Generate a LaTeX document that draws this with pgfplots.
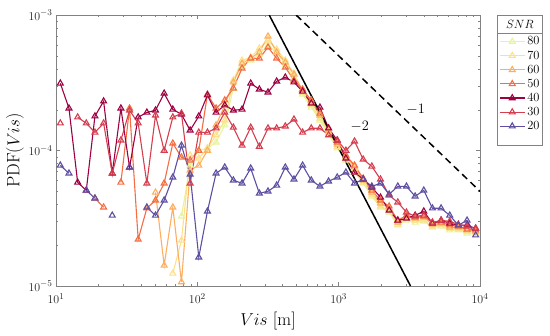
\documentclass[border=0pt]{standalone}
\usepackage{pgfplots}
\pgfplotsset{compat=1.18}
\usepackage{pgfplotstable}

\definecolor{c80}{RGB}{230,245,152}
\definecolor{c70}{RGB}{254,224,139}
\definecolor{c60}{RGB}{253,174,97}
\definecolor{c50}{RGB}{244,109,67}
\definecolor{c40}{RGB}{158,1,66}
\definecolor{c30}{RGB}{213,62,79}
\definecolor{c20}{RGB}{94,79,162}
\definecolor{axgray}{RGB}{130,130,130}

\pgfplotstableread{
x s80 s70 s60 s50 s40 s30 s20
10.73 nan nan nan nan 3.13e-4 1.59e-4 7.77e-5
12.35 nan nan nan nan 2.05e-4 nan 6.79e-5
14.23 nan nan nan nan 5.82e-5 1.76e-4 nan
16.38 nan nan nan nan 5.08e-5 1.59e-4 5.08e-5
18.86 nan nan nan 4.44e-5 1.79e-4 1.36e-4 4.44e-5
21.72 nan nan nan 3.81e-5 2.31e-4 1.59e-4 nan
25.00 nan nan nan nan 6.79e-5 6.79e-5 3.32e-5
28.79 nan nan nan 5.82e-5 2.05e-4 1.19e-4 nan
33.15 nan nan nan 2.05e-4 7.52e-5 1.98e-4 7.52e-5
38.16 nan nan nan 2.21e-5 1.76e-4 1.59e-4 nan
43.94 nan nan nan 3.75e-5 1.91e-4 5.73e-5 3.81e-5
50.59 nan nan 4.91e-5 4.29e-5 1.98e-4 1.82e-4 3.32e-5
58.25 nan nan 1.42e-5 5.73e-5 2.64e-4 1.00e-4 4.29e-5
67.07 nan 1.24e-5 3.81e-5 1.13e-4 2.01e-4 1.76e-4 6.34e-5
77.23 3.27e-5 2.17e-5 1.07e-5 8.91e-5 1.85e-4 1.88e-4 1.09e-4
88.92 7.77e-5 9.22e-5 7.14e-5 8.47e-5 1.41e-4 5.73e-5 6.67e-5
102.4 1.00e-4 8.76e-5 7.77e-5 1.00e-4 1.79e-4 1.36e-4 1.63e-5
117.9 1.04e-4 1.04e-4 1.00e-4 2.60e-4 2.56e-4 1.36e-4 3.56e-5
135.7 1.15e-4 1.30e-4 1.54e-4 2.05e-4 1.91e-4 1.46e-4 6.79e-5
156.3 1.54e-4 1.67e-4 2.16e-4 2.35e-4 2.16e-4 1.91e-4 7.52e-5
179.9 2.88e-4 3.30e-4 3.19e-4 2.88e-4 1.98e-4 1.48e-4 6.03e-5
207.2 4.18e-4 4.63e-4 4.40e-4 4.04e-4 2.01e-4 1.09e-4 5.73e-5
238.6 4.63e-4 4.87e-4 4.79e-4 4.79e-4 3.13e-4 1.48e-4 7.39e-5
274.7 5.13e-4 5.68e-4 5.31e-4 4.79e-4 2.83e-4 1.07e-4 4.83e-5
316.2 5.98e-4 6.51e-4 6.96e-4 5.78e-4 2.69e-4 1.46e-4 5.00e-5
364.1 5.31e-4 5.58e-4 5.31e-4 4.79e-4 3.24e-4 1.46e-4 5.53e-5
419.3 4.33e-4 4.63e-4 4.48e-4 4.11e-4 3.47e-4 1.51e-4 7.52e-5
482.7 3.41e-4 3.71e-4 3.65e-4 3.30e-4 3.19e-4 1.70e-4 6.13e-5
555.8 2.60e-4 2.69e-4 2.78e-4 2.83e-4 2.73e-4 1.36e-4 7.77e-5
640.0 2.08e-4 2.16e-4 2.27e-4 2.35e-4 2.23e-4 1.46e-4 6.03e-5
736.9 1.67e-4 1.73e-4 1.82e-4 1.88e-4 2.08e-4 1.46e-4 5.44e-5
848.5 1.30e-4 1.36e-4 1.41e-4 1.46e-4 1.46e-4 1.30e-4 5.93e-5
977.0 1.04e-4 1.07e-4 1.11e-4 1.15e-4 1.19e-4 1.19e-4 6.34e-5
1125 8.47e-5 8.76e-5 9.06e-5 9.22e-5 8.76e-5 1.00e-4 6.90e-5
1295 6.90e-5 7.39e-5 7.64e-5 7.77e-5 6.90e-5 1.17e-4 5.73e-5
1491 5.73e-5 5.82e-5 6.03e-5 6.23e-5 6.13e-5 8.61e-5 6.13e-5
1717 4.59e-5 4.75e-5 4.91e-5 5.08e-5 5.35e-5 7.64e-5 5.44e-5
1977 3.81e-5 3.88e-5 4.08e-5 4.29e-5 4.51e-5 6.13e-5 5.73e-5
2276 3.50e-5 3.62e-5 3.75e-5 3.88e-5 3.62e-5 4.67e-5 4.75e-5
2621 2.81e-5 2.85e-5 2.95e-5 3.05e-5 3.05e-5 4.15e-5 5.44e-5
3018 3.05e-5 3.16e-5 3.27e-5 3.32e-5 3.16e-5 3.50e-5 5.44e-5
3475 2.95e-5 3.05e-5 3.16e-5 3.21e-5 3.32e-5 3.27e-5 4.59e-5
4001 3.00e-5 3.05e-5 3.21e-5 3.27e-5 3.56e-5 3.32e-5 5.08e-5
4607 2.71e-5 2.76e-5 2.85e-5 2.95e-5 2.90e-5 2.95e-5 3.75e-5
5304 2.76e-5 2.81e-5 2.90e-5 2.95e-5 3.05e-5 3.05e-5 3.75e-5
6107 2.58e-5 2.66e-5 2.71e-5 2.81e-5 2.90e-5 3.00e-5 3.32e-5
7032 2.58e-5 2.62e-5 2.71e-5 2.76e-5 2.81e-5 2.85e-5 2.81e-5
8097 2.45e-5 2.53e-5 2.58e-5 2.62e-5 2.81e-5 2.76e-5 3.05e-5
9321 2.41e-5 2.49e-5 2.53e-5 2.58e-5 2.66e-5 2.66e-5 2.37e-5
}\pdfdata

\pgfplotsset{
  snr/.style={#1, line width=1.1bp, mark=triangle, mark size=3.4bp, mark options={solid, line width=1.1bp}},
}

\begin{document}
\begin{tikzpicture}
\path[use as bounding box] (-56bp,-50bp) rectangle (494bp,286bp);
\begin{axis}[
  name=ax, at={(0,0)}, anchor=south west,
  scale only axis, width=424bp, height=271bp,
  xmode=log, ymode=log,
  xmin=10, xmax=1e4, ymin=1e-5, ymax=1e-3,
  axis line style={axgray},
  every tick/.style={axgray},
  tick align=inside,
  major tick length=4.5bp, minor tick length=2.5bp,
  ticklabel style={font=\fontsize{13}{15}\selectfont, text=black!85},
  xticklabel style={yshift=-4bp},
  xtick={10,100,1000,10000},
  ytick={1e-5,1e-4,1e-3},
  xlabel={$Vis$ [m]}, ylabel={PDF($Vis$)},
  label style={font=\fontsize{18}{20}\selectfont},
  xlabel style={at={(axis description cs:0.5,-0.129)}, anchor=center},
  ylabel style={at={(axis description cs:-0.097,0.5)}, anchor=center},
  unbounded coords=jump,
  legend style={draw=none, fill=none, at={(1,1)}, anchor=north west,
    xshift=19bp, yshift=-19.5bp, inner sep=0pt, row sep=0.3bp,
    font=\fontsize{12.5}{14}\selectfont},
  legend cell align=left,
  legend image code/.code={\draw[mark repeat=2,mark phase=2,#1] plot coordinates {(0bp,0bp) (12.5bp,0bp) (25bp,0bp)};},
]
\addplot[snr=c80] table[x=x,y=s80] {\pdfdata};
\addlegendentry{80}
\addplot[snr=c70] table[x=x,y=s70] {\pdfdata};
\addlegendentry{70}
\addplot[snr=c60] table[x=x,y=s60] {\pdfdata};
\addlegendentry{60}
\addplot[snr=c50] table[x=x,y=s50] {\pdfdata};
\addlegendentry{50}
\addplot[snr=c40] table[x=x,y=s40] {\pdfdata};
\addlegendentry{40}
\addplot[snr=c30] table[x=x,y=s30] {\pdfdata};
\addlegendentry{30}
\addplot[snr=c20] table[x=x,y=s20] {\pdfdata};
\addlegendentry{20}
\addplot[black, line width=1.5bp, no marks, forget plot] coordinates {(322.5,1e-3) (3225,1e-5)};
\addplot[black, line width=1.5bp, no marks, dash pattern=on 7bp off 4.5bp, forget plot] coordinates {(500,1e-3) (1e4,5e-5)};
\node[font=\fontsize{15}{17}\selectfont] at (axis cs:1409,1.51e-4) {$-2$};
\node[font=\fontsize{15}{17}\selectfont] at (axis cs:3508,2.0e-4) {$-1$};
\end{axis}
\draw[axgray, line width=0.6bp] ([xshift=17bp]ax.north east) rectangle ++(45.6bp,-130.3bp);
\draw[axgray, line width=0.6bp] ([xshift=17bp,yshift=-18.6bp]ax.north east) -- ++(45.6bp,0);
\node[font=\fontsize{12.5}{14}\selectfont, anchor=center] at ([xshift=39.8bp,yshift=-9.3bp]ax.north east) {$SNR$};
\end{tikzpicture}
\end{document}
